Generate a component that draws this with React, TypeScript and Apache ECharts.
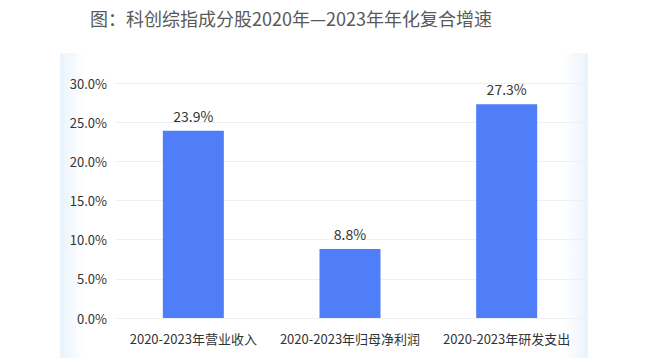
import React, { useEffect, useRef } from "react";
import * as echarts from "echarts";

const categories = ["2020-2023年营业收入", "2020-2023年归母净利润", "2020-2023年研发支出"];
const values = [23.9, 8.8, 27.3];
const titleText = "图：科创综指成分股2020年—2023年年化复合增速";

export default function App() {
  const ref = useRef<HTMLDivElement>(null);
  useEffect(() => {
    const chart = echarts.init(ref.current!, null, { renderer: "svg" });
    const font = "'Noto Sans CJK SC', 'Noto Sans', sans-serif";
    chart.setOption({
      animation: false,
      backgroundColor: "#fff",
      graphic: [
        {
          type: "rect",
          shape: { x: 60, y: 53, width: 24, height: 305 },
          style: {
            fill: new echarts.graphic.LinearGradient(0, 0, 1, 0, [
              { offset: 0, color: "#eaf3fb" },
              { offset: 1, color: "#ffffff" },
            ]),
          },
          silent: true,
          z: -10,
        },
        {
          type: "rect",
          shape: { x: 564, y: 53, width: 24, height: 305 },
          style: {
            fill: new echarts.graphic.LinearGradient(0, 0, 1, 0, [
              { offset: 0, color: "#ffffff" },
              { offset: 1, color: "#eaf3fb" },
            ]),
          },
          silent: true,
          z: -10,
        },
        {
          type: "text",
          left: 90,
          top: 9,
          style: { text: titleText, fontSize: 18, fill: "#595959", fontFamily: font },
        },
      ],
      grid: { left: 115, right: 60, top: 83, bottom: 40 },
      xAxis: {
        type: "category",
        data: categories,
        axisLine: { show: false },
        axisTick: { show: false },
        axisLabel: { color: "#333", fontSize: 13, fontFamily: font, margin: 14, interval: 0 },
      },
      yAxis: {
        type: "value",
        min: 0,
        max: 30,
        interval: 5,
        axisLabel: {
          color: "#333",
          fontSize: 13,
          fontFamily: font,
          margin: 8,
          formatter: (v: number) => v.toFixed(1) + "%",
        },
        splitLine: { lineStyle: { color: "#eef0f3" } },
      },
      series: [
        {
          type: "bar",
          data: values,
          barWidth: 61,
          itemStyle: { color: "#4f7ef8" },
          label: {
            show: true,
            position: "top",
            color: "#333",
            fontSize: 14,
            fontFamily: font,
            distance: 8,
            formatter: (p: any) => p.value.toFixed(1) + "%",
          },
        },
      ],
    });
    return () => chart.dispose();
  }, []);
  return <div ref={ref} style={{ width: 645, height: 358, position: "absolute", left: 0, top: 0 }} />;
}
